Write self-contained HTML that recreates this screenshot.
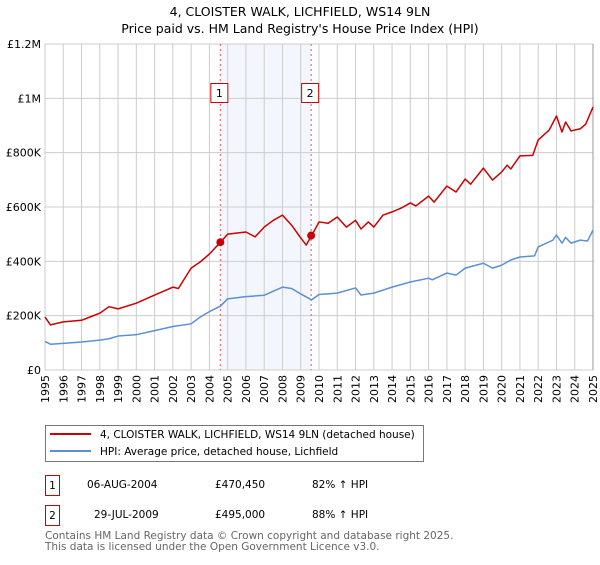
<!DOCTYPE html>
<html><head><meta charset="utf-8"><style>
body{margin:0;background:#fff;font-family:"Liberation Sans","DejaVu Sans",sans-serif;}
svg text{font-family:"DejaVu Sans","Liberation Sans",sans-serif;}
</style></head><body>
<svg id="chart" width="600" height="560" viewBox="0 0 600 560" xmlns="http://www.w3.org/2000/svg">
<text x="300" y="16" text-anchor="middle" font-size="12.5" fill="#000">4, CLOISTER WALK, LICHFIELD, WS14 9LN</text>
<text x="300" y="33" text-anchor="middle" font-size="12.5" fill="#000">Price paid vs. HM Land Registry's House Price Index (HPI)</text>
<g id="grid"></g>
<g id="marks"></g>
<g>
<rect x="45.5" y="425.5" width="378" height="36" fill="#fff" stroke="#777"/>
<line x1="50" y1="434" x2="91" y2="434" stroke="#cc0000" stroke-width="2"/>
<text x="100" y="438" font-size="10.5">4, CLOISTER WALK, LICHFIELD, WS14 9LN (detached house)</text>
<line x1="50" y1="451" x2="91" y2="451" stroke="#5b8fd6" stroke-width="2"/>
<text x="100" y="455" font-size="10.5">HPI: Average price, detached house, Lichfield</text>
</g>
<g font-size="10.5">
<rect x="45.5" y="475.5" width="14" height="20" fill="#fff" stroke="#cc0000"/>
<text x="52.5" y="489" text-anchor="middle">1</text>
<text x="87" y="488">06-AUG-2004</text>
<text x="215" y="488">£470,450</text>
<text x="312" y="488">82% ↑ HPI</text>
<rect x="45.5" y="505.5" width="14" height="20" fill="#fff" stroke="#cc0000"/>
<text x="52.5" y="519" text-anchor="middle">2</text>
<text x="94" y="518">29-JUL-2009</text>
<text x="215" y="518">£495,000</text>
<text x="312" y="518">88% ↑ HPI</text>
</g>
<text x="45" y="539" font-size="10.5" fill="#666">Contains HM Land Registry data © Crown copyright and database right 2025.</text>
<text x="45" y="550" font-size="10.5" fill="#666">This data is licensed under the Open Government Licence v3.0.</text>
</svg>
<script>
const yTicks=[0,200000,400000,600000,800000,1000000,1200000];
const yTickLabels=["£0","£200K","£400K","£600K","£800K","£1M","£1.2M"];
const years=[1995,1996,1997,1998,1999,2000,2001,2002,2003,2004,2005,2006,2007,2008,2009,2010,2011,2012,2013,2014,2015,2016,2017,2018,2019,2020,2021,2022,2023,2024,2025];
const hpiDates=[1995,1995.3,1996,1997,1998,1998.5,1999,2000,2001,2002,2003,2003.5,2004,2004.6,2005,2006,2007,2007.5,2008,2008.5,2009,2009.6,2010,2011,2012,2012.3,2013,2014,2015,2016,2016.2,2017,2017.5,2018,2019,2019.5,2020,2020.5,2021,2021.8,2022,2022.8,2023,2023.3,2023.5,2023.8,2024.3,2024.7,2025];
const hpiValues=[105,95,98,103,110,115,125,130,145,160,170,195,215,235,262,270,275,290,305,300,280,258,278,283,302,276,283,305,324,338,332,357,349,375,393,375,386,405,416,420,453,478,497,467,488,467,478,475,515];
const priceDates=[1995,1995.3,1996,1997,1997.5,1998,1998.5,1999,2000,2001,2002,2002.3,2003,2003.5,2004,2004.6,2005,2006,2006.5,2007,2007.5,2008,2008.5,2009,2009.3,2009.6,2010,2010.5,2011,2011.5,2012,2012.3,2012.7,2013,2013.5,2014,2014.5,2015,2015.3,2016,2016.3,2017,2017.5,2018,2018.3,2019,2019.5,2020,2020.3,2020.5,2021,2021.7,2022,2022.6,2023,2023.3,2023.5,2023.8,2024.3,2024.6,2025];
const priceValues=[195,166,177,183,196,209,233,225,246,276,305,300,375,398,427,470,500,508,490,526,551,570,533,486,460,495,545,540,563,526,551,519,545,526,570,582,596,615,604,640,618,677,655,703,684,743,699,729,754,740,788,790,847,883,935,876,913,880,888,905,968];
const saleDates=[2004.6,2009.57];
const salePrices=[470450,495000];
const saleLabels=["1","2"];

const X0=45,X1=593,Y0=370,Y1=44;
const x=t=>X0+(t-1995)/30*(X1-X0);
const y=v=>Y0-v/1200000*(Y0-Y1);
const NS="http://www.w3.org/2000/svg";
function mk(tag,attrs,parent){const e=document.createElementNS(NS,tag);for(const k in attrs)e.setAttribute(k,attrs[k]);parent.appendChild(e);return e;}
const grid=document.getElementById('grid'),marks=document.getElementById('marks');
const shade=mk('rect',{x:x(saleDates[0]),y:Y1,width:x(saleDates[1])-x(saleDates[0]),height:Y0-Y1,fill:'#eef3fc',opacity:0.7},grid);


yTicks.forEach((v,i)=>{
  const l=mk('line',{x1:X0,x2:X1,y1:y(v),y2:y(v),stroke:'#ccc'},grid);
  
  
  const t=mk('text',{x:X0-4,y:y(v)+4,'text-anchor':'end','font-size':'11'},grid);
  
  
  t.textContent=yTickLabels[i];
});
years.forEach(yr=>{
  const l=mk('line',{x1:x(yr),x2:x(yr),y1:Y1,y2:Y0,stroke:'#ccc'},grid);
  
  
  const t=mk('text',{x:0,y:0,'text-anchor':'end','font-size':'11',transform:`translate(${x(yr)+4},${Y0+5}) rotate(-90)`},grid);
  
  
  t.textContent=yr;
});
const rb=mk('line',{x1:X1,x2:X1,y1:Y1,y2:Y0,stroke:'#999'},grid);


saleDates.forEach((d,i)=>{
  const l=mk('line',{x1:x(d),x2:x(d),y1:Y1,y2:Y0,stroke:'#ee5555','stroke-dasharray':'2,3'},marks);
  
  
});
function path(ds,vs,color,name){
  const p=mk('polyline',{points:ds.map((d,i)=>x(d)+','+y(vs[i]*1000)).join(' '),fill:'none',stroke:color,'stroke-width':1.5,'stroke-linejoin':'round'},marks);
  
  
}
path(hpiDates,hpiValues,'#5b8fd6','hpi-line');
path(priceDates,priceValues,'#cc0000','property-price-line');
saleDates.forEach((d,i)=>{
  const c=mk('circle',{cx:x(d),cy:y(salePrices[i]),r:4,fill:'#cc0000'},marks);
  
  
  const b=mk('rect',{x:x(d)-9.5,y:83.5,width:17,height:19,fill:'#fff',stroke:'#cc0000'},marks);
  
  
  const t=mk('text',{x:x(d)-1,y:97,'text-anchor':'middle','font-size':'11'},marks);
  
  
  t.textContent=saleLabels[i];
});
</script>
</body></html>
